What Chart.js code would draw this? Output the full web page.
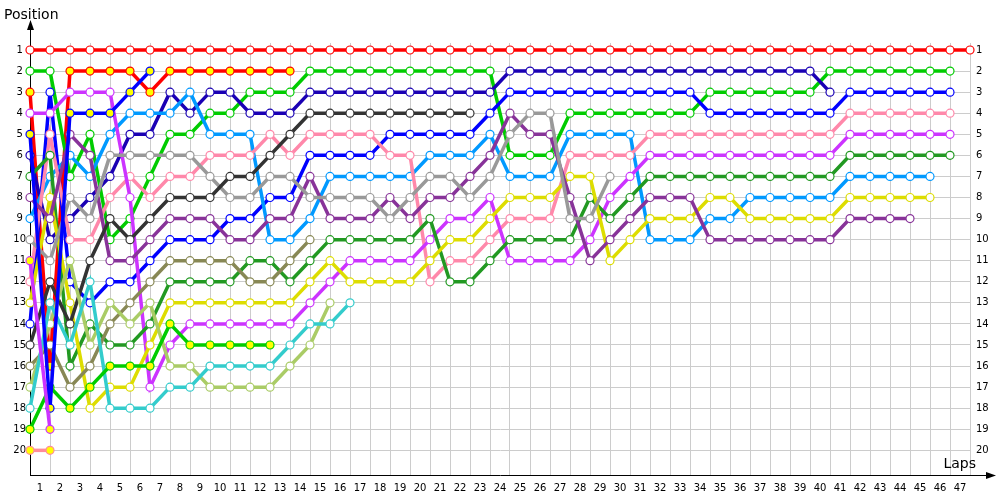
<!DOCTYPE html>
<html>
<head>
<meta charset="utf-8">
<script src="https://cdn.jsdelivr.net/npm/chart.js@4.4.1/dist/chart.umd.min.js"></script>
<style>
  html, body { margin: 0; padding: 0; background: #fff; }
</style>
</head>
<body>
<canvas id="lapChart" width="1000" height="500"></canvas>
<script>
// Lap chart: position of every car at the end of each lap (lap 0 = grid).
const laps = [0,1,2,3,4,5,6,7,8,9,10,11,12,13,14,15,16,17,18,19,20,21,22,23,
  24,25,26,27,28,29,30,31,32,33,34,35,36,37,38,39,40,41,42,43,44,45,46,47];
const posTicks = [1,2,3,4,5,6,7,8,9,10,11,12,13,14,15,16,17,18,19,20];

// one array per car, starting at lap 0
const posRed     = [1,1,1,1,1,1,1,1,1,1,1,1,1,1,1,1,1,1,1,1,1,1,1,1,1,1,1,1,1,1,1,1,1,1,1,1,1,1,1,1,1,1,1,1,1,1,1,1];
const posLime    = [2,2,7,5,10,9,7,5,5,4,4,3,3,3,2,2,2,2,2,2,2,2,2,2,6,6,6,4,4,4,4,4,4,4,3,3,3,3,3,3,2,2,2,2,2,2,2];
const posNavy    = [6,10,9,8,7,5,5,3,4,3,3,4,4,4,3,3,3,3,3,3,3,3,3,3,2,2,2,2,2,2,2,2,2,2,2,2,2,2,2,2,3];
const posBlue    = [14,3,12,13,12,12,11,10,10,10,9,9,8,8,6,6,6,6,5,5,5,5,5,4,3,3,3,3,3,3,3,3,3,3,4,4,4,4,4,4,4,3,3,3,3,3,3];
const posSky     = [9,7,6,7,5,4,4,4,3,5,5,5,10,10,9,7,7,7,7,7,6,6,6,5,7,7,7,5,5,5,5,10,10,10,9,9,8,8,8,8,8,7,7,7,7,7];
const posPink    = [12,5,10,10,8,7,8,7,7,6,6,6,5,6,5,5,5,5,6,6,12,11,11,10,9,9,9,6,6,6,6,5,5,5,5,5,5,5,5,5,5,4,4,4,4,4,4];
const posMagenta = [4,4,3,3,3,8,17,15,14,14,14,14,14,14,13,12,11,11,11,11,10,9,9,8,11,11,11,11,10,8,7,6,6,6,6,6,6,6,6,6,6,5,5,5,5,5,5];
const posForest  = [7,6,16,14,15,15,14,12,12,12,12,11,11,12,11,10,10,10,10,10,9,12,12,11,10,10,10,10,8,9,8,7,7,7,7,7,7,7,7,7,7,6,6,6,6,6,6];
const posPurple  = [8,9,5,6,11,11,10,9,9,9,10,10,9,9,7,9,9,9,8,9,8,8,7,6,4,5,5,8,11,10,9,8,8,8,10,10,10,10,10,10,10,9,9,9,9];
const posYellow  = [13,8,13,18,17,17,15,13,13,13,13,13,13,13,12,11,12,12,12,12,11,10,10,9,8,8,8,7,7,11,10,9,9,9,8,8,9,9,9,9,9,8,8,8,8,8];
const posGray    = [10,11,8,9,6,6,6,6,6,7,8,8,7,7,8,8,8,8,9,8,7,7,8,7,5,4,4,9,9,7];
const posBlack   = [15,12,14,11,9,10,9,8,8,8,7,7,6,5,4,4,4,4,4,4,4,4,4];
const posOlive   = [16,15,17,16,14,13,12,11,11,11,11,12,12,11,10];
const posKhaki   = [17,14,11,15,13,14,13,16,16,17,17,17,17,16,15,13];
const posTeal    = [18,13,15,12,18,18,18,17,17,16,16,16,16,15,14,14,13];
const posLimeY   = [19,17,18,17,16,16,16,14,15,15,15,15,15];
const posRedY    = [3,16,2,2,2,2,3,2,2,2,2,2,2,2];
const posBlueY   = [5,18,4,4,4,3,2];
const posMagY    = [11,19];
const posPinkY   = [20,20];

const cars = [
  { data: posPinkY,   color: "#ff8c9a", fill: "#ffff00" },
  { data: posMagY,    color: "#cc33ff", fill: "#ffff00" },
  { data: posBlueY,   color: "#0000ff", fill: "#ffff00" },
  { data: posLimeY,   color: "#00cc00", fill: "#ffff00" },
  { data: posTeal,    color: "#33cccc" },
  { data: posKhaki,   color: "#aacc66" },
  { data: posOlive,   color: "#888855" },
  { data: posBlack,   color: "#333333" },
  { data: posGray,    color: "#999999" },
  { data: posPurple,  color: "#883399" },
  { data: posYellow,  color: "#dddd00" },
  { data: posForest,  color: "#229922" },
  { data: posMagenta, color: "#cc33ff" },
  { data: posPink,    color: "#ff88aa" },
  { data: posSky,     color: "#0099ff" },
  { data: posBlue,    color: "#0000ff" },
  { data: posNavy,    color: "#1a00b4" },
  { data: posLime,    color: "#00cc00" },
  { data: posRedY,    color: "#ff0000", fill: "#ffff00" },
  { data: posRed,     color: "#ff0000" },
];

const FONT = "DejaVu Sans";

// axis arrows and the two axis titles sit outside the chart area
const axisDecor = {
  id: "axisDecor",
  afterDraw(chart) {
    const { ctx, chartArea: a } = chart;
    ctx.save();
    ctx.strokeStyle = "#000";
    ctx.fillStyle = "#000";
    ctx.lineWidth = 1;
    ctx.beginPath();
    ctx.moveTo(a.left + 0.5, a.top);
    ctx.lineTo(a.left + 0.5, 24);
    ctx.moveTo(a.right, a.bottom + 0.5);
    ctx.lineTo(992, a.bottom + 0.5);
    ctx.stroke();
    ctx.beginPath();
    ctx.moveTo(a.left + 0.5, 20);
    ctx.lineTo(a.left - 3, 30);
    ctx.lineTo(a.left + 4, 30);
    ctx.closePath();
    ctx.fill();
    ctx.beginPath();
    ctx.moveTo(996, a.bottom + 0.5);
    ctx.lineTo(986, a.bottom - 3);
    ctx.lineTo(986, a.bottom + 4);
    ctx.closePath();
    ctx.fill();
    ctx.font = `14px "${FONT}"`;
    ctx.textBaseline = "middle";
    ctx.textAlign = "left";
    ctx.fillText("Position", 4, 15);
    ctx.textAlign = "right";
    ctx.fillText("Laps", 976, 464);
    ctx.restore();
  },
};

new Chart(document.getElementById("lapChart"), {
  type: "line",
  data: {
    datasets: cars.map((c) => ({
      data: c.data.map((p, i) => ({ x: laps[i], y: p })),
      borderColor: c.color,
      backgroundColor: c.fill || "#ffffff",
      pointBorderColor: c.color,
      pointBackgroundColor: c.fill || "#ffffff",
      borderWidth: 3.5,
      pointRadius: 4,
      pointBorderWidth: 1.2,
      tension: 0,
      clip: false,
    })),
  },
  options: {
    responsive: false,
    animation: false,
    devicePixelRatio: 1,
    layout: { padding: { top: 43, left: 0, right: 0, bottom: 0 } },
    plugins: { legend: { display: false }, tooltip: { enabled: false } },
    scales: {
      x: {
        type: "linear",
        min: 0,
        max: 47,
        afterBuildTicks: (s) => { s.ticks = laps.map((v) => ({ value: v })); },
        afterFit: (s) => { s.height = 25; },
        grid: { color: "#cccccc", drawTicks: false },
        border: { color: "#000000" },
        ticks: {
          autoSkip: false,
          maxRotation: 0,
          labelOffset: 10,
          padding: 7,
          color: "#000",
          font: { family: FONT, size: 10 },
          callback: (v) => (v < 47 ? String(v + 1) : ""),
        },
      },
      y: {
        position: "left",
        reverse: true,
        min: 0.668,
        max: 21.17,
        afterBuildTicks: (s) => { s.ticks = posTicks.map((v) => ({ value: v })); },
        afterFit: (s) => { s.width = 30; },
        grid: { color: "#cccccc", drawTicks: false },
        border: { color: "#000000" },
        ticks: {
          crossAlign: "center",
          padding: 4,
          color: "#000",
          font: { family: FONT, size: 10 },
        },
      },
      y2: {
        position: "right",
        reverse: true,
        min: 0.668,
        max: 21.17,
        afterBuildTicks: (s) => { s.ticks = posTicks.map((v) => ({ value: v })); },
        afterFit: (s) => { s.width = 30; },
        grid: { display: false, drawTicks: false },
        border: { display: false },
        ticks: {
          padding: 6,
          color: "#000",
          font: { family: FONT, size: 10 },
        },
      },
    },
  },
  plugins: [axisDecor],
});
</script>
</body>
</html>
